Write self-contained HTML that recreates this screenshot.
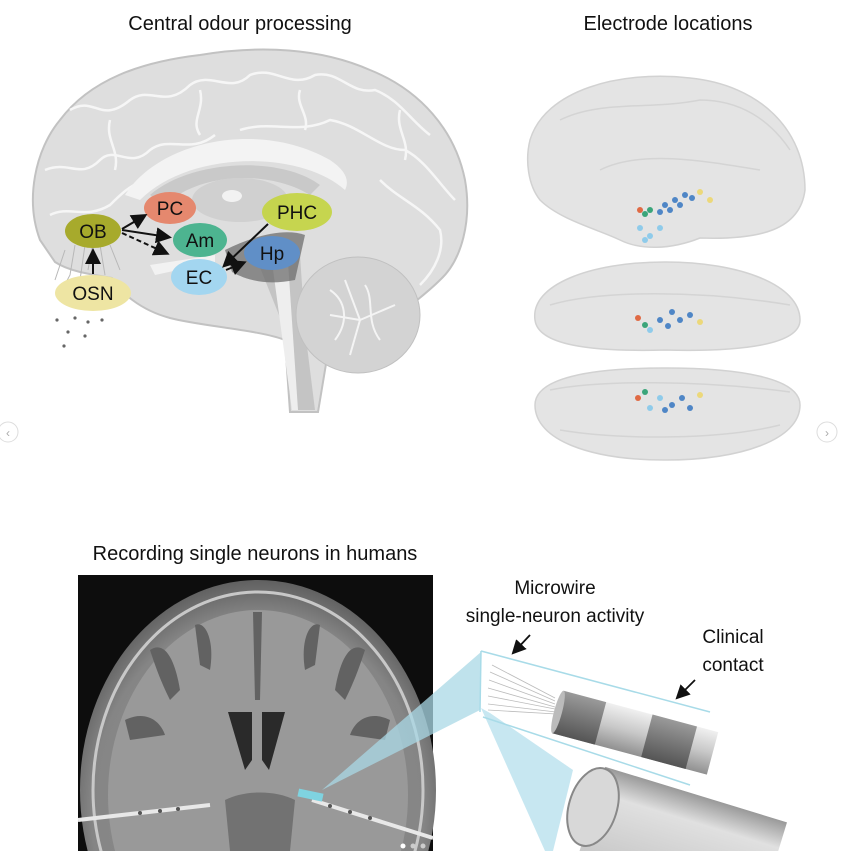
<!DOCTYPE html>
<html><head><meta charset="utf-8"><style>
html,body{margin:0;padding:0;background:#fff;width:842px;height:851px;overflow:hidden;}
svg{display:block;font-family:"Liberation Sans",Arial,sans-serif;}
</style></head><body>
<svg width="842" height="851" viewBox="0 0 842 851" xmlns="http://www.w3.org/2000/svg">
<defs>
<marker id="ar" markerWidth="8" markerHeight="8" refX="6" refY="4" orient="auto"><path d="M0,0 L8,4 L0,8 z" fill="#111"/></marker>
<linearGradient id="cyl" x1="0" y1="0" x2="0" y2="1"><stop offset="0" stop-color="#f0f0f0"/><stop offset="0.5" stop-color="#c8c8c8"/><stop offset="1" stop-color="#909090"/></linearGradient>
<linearGradient id="cyl2" x1="0" y1="0" x2="0" y2="1"><stop offset="0" stop-color="#9a9a9a"/><stop offset="0.5" stop-color="#777"/><stop offset="1" stop-color="#555"/></linearGradient>
<linearGradient id="sem" x1="0" y1="0" x2="0" y2="1"><stop offset="0" stop-color="#999"/><stop offset="0.3" stop-color="#e0e0e0"/><stop offset="1" stop-color="#c8c8c8"/></linearGradient>
<radialGradient id="skull" cx="0.5" cy="0.55" r="0.55"><stop offset="0" stop-color="#959595"/><stop offset="0.85" stop-color="#858585"/><stop offset="1" stop-color="#606060"/></radialGradient>
</defs>

<text x="240" y="30" font-size="20" text-anchor="middle" fill="#111">Central odour processing</text>
<text x="668" y="30" font-size="20" text-anchor="middle" fill="#111">Electrode locations</text>

<!-- sagittal brain -->
<path d="M40,240 C25,200 35,150 60,120 C90,80 140,62 200,55 C260,45 320,48 370,70 C420,90 455,130 465,180 C472,220 462,260 440,280 C420,300 400,310 390,330 L330,340 L318,412 L290,412 L285,340 C260,330 200,326 170,318 C140,310 120,292 112,278 C95,275 70,272 55,262 Z" fill="#dedede" stroke="#c2c2c2" stroke-width="2"/>
<g stroke="#f6f6f6" fill="none" stroke-width="2.5">
<path d="M70,110 C95,95 100,125 130,100 C150,85 165,110 190,85 C210,70 230,95 250,75 C275,65 290,90 315,75 C340,70 350,95 375,90 C400,100 410,120 430,135"/>
<path d="M45,170 C70,160 80,180 100,160 C115,145 130,170 150,150 C170,135 190,155 215,135"/>
<path d="M240,130 C270,120 300,135 330,120 C360,125 380,150 405,150 C425,160 440,185 455,200"/>
<path d="M380,180 C400,200 420,205 440,230 C445,250 435,270 420,285"/>
<path d="M50,215 C70,205 85,220 110,205 C120,195 130,185 145,180"/>
<path d="M110,120 C105,140 120,150 115,170"/><path d="M200,90 C205,110 190,120 200,135"/><path d="M300,90 C295,105 310,115 305,130"/><path d="M400,110 C395,130 410,140 405,160"/>
</g>
<path d="M125,195 C160,140 260,120 330,160 C345,170 350,180 345,190 C300,150 190,150 140,200 Z" fill="#f3f3f3"/>
<path d="M150,195 C190,160 280,155 320,185 L310,195 C270,170 200,172 165,205 Z" fill="#c9c9c9"/>
<ellipse cx="240" cy="200" rx="48" ry="22" fill="#d0d0d0"/>
<ellipse cx="232" cy="196" rx="10" ry="6" fill="#f2f2f2"/>
<path d="M255,255 L300,255 L305,330 L315,410 L295,410 L285,330 Z" fill="#c4c4c4"/>
<path d="M272,262 L288,262 L298,410 L292,410 Z" fill="#eeeeee"/>
<ellipse cx="358" cy="315" rx="62" ry="58" fill="#d3d3d3" stroke="#c0c0c0"/>
<g stroke="#f4f4f4" fill="none" stroke-width="2"><path d="M330,290 C345,300 350,320 335,340"/><path d="M345,280 L360,320 L350,355"/><path d="M365,285 C375,300 365,320 380,340"/><path d="M360,320 L395,305"/><path d="M360,320 L330,315"/></g>
<path d="M225,250 C255,235 285,228 305,235 L295,280 C270,285 250,282 232,272 Z" fill="#6e6e6e" opacity="0.75"/>
<path d="M150,265 L215,255 L215,262 L155,275 Z" fill="#f2f2f2"/>

<g stroke="#b8b8b8" fill="none" stroke-width="1">
<path d="M75,245 L70,275 L62,290 M85,245 L80,280 M100,245 L105,275 M110,245 L120,270 M65,250 L55,280 M92,248 L88,270"/>
</g>
<g fill="#666"><circle cx="57" cy="320" r="1.6"/><circle cx="75" cy="318" r="1.6"/><circle cx="88" cy="322" r="1.6"/><circle cx="102" cy="320" r="1.6"/><circle cx="68" cy="332" r="1.6"/><circle cx="85" cy="336" r="1.6"/><circle cx="64" cy="346" r="1.6"/></g>

<!-- nodes -->
<g font-size="19" text-anchor="middle" fill="#111">
<ellipse cx="93" cy="231" rx="28" ry="17" fill="#a7aa2c"/><text x="93" y="238">OB</text>
<ellipse cx="170" cy="208" rx="26" ry="16" fill="#e5886e"/><text x="170" y="215">PC</text>
<ellipse cx="200" cy="240" rx="27" ry="17" fill="#4db490"/><text x="200" y="247">Am</text>
<ellipse cx="199" cy="277" rx="28" ry="18" fill="#a3d6f0"/><text x="199" y="284">EC</text>
<ellipse cx="272" cy="253" rx="28" ry="17" fill="#5e8fca" opacity="0.95"/><text x="272" y="260">Hp</text>
<ellipse cx="297" cy="212" rx="35" ry="19" fill="#c4d447" opacity="0.95"/><text x="297" y="219">PHC</text>
<ellipse cx="93" cy="293" rx="38" ry="18" fill="#eee5a3"/><text x="93" y="300">OSN</text>
</g>
<g stroke="#111" stroke-width="2" fill="none" marker-end="url(#ar)">
<line x1="93" y1="274" x2="93" y2="252"/>
<line x1="122" y1="229" x2="144" y2="216"/>
<line x1="122" y1="230" x2="168" y2="237"/>
<line x1="122" y1="233" x2="166" y2="253" stroke-dasharray="5,3"/>
<line x1="268" y1="224" x2="225" y2="265"/>
<line x1="226" y1="270" x2="243" y2="263"/>
</g>

<!-- electrode brains -->
<g fill="#e4e4e4" stroke="#d2d2d2" stroke-width="1.5">
<path d="M530,140 C545,90 620,70 690,78 C760,85 805,130 805,190 C800,230 760,240 700,238 C670,250 640,250 620,240 C600,230 560,220 540,200 C528,185 525,160 530,140 Z"/>
<path d="M535,320 C530,285 590,262 665,262 C740,262 800,285 800,320 C800,345 740,352 665,350 C590,352 538,345 535,320 Z"/>
<path d="M535,405 C535,378 590,368 665,368 C740,368 800,378 800,405 C800,440 740,460 665,460 C590,460 535,440 535,405 Z"/>
</g>
<g stroke="#d4d4d4" fill="none" stroke-width="1.5">
<path d="M560,120 C600,100 650,110 700,100 C740,100 770,120 790,150"/><path d="M600,170 C640,150 700,160 760,170"/>
<path d="M550,305 C600,290 700,290 790,305"/><path d="M550,390 C600,380 700,380 790,392"/><path d="M560,430 C620,440 720,440 780,425"/>
</g>
<g>
<circle cx="640" cy="210" r="3" fill="#e06a44"/><circle cx="645" cy="214" r="3" fill="#3aa57a"/><circle cx="650" cy="210" r="3" fill="#3aa57a"/>
<circle cx="665" cy="205" r="3" fill="#4f86c6"/><circle cx="675" cy="200" r="3" fill="#4f86c6"/><circle cx="685" cy="195" r="3" fill="#4f86c6"/><circle cx="660" cy="212" r="3" fill="#4f86c6"/><circle cx="692" cy="198" r="3" fill="#4f86c6"/><circle cx="670" cy="210" r="3" fill="#4f86c6"/><circle cx="680" cy="205" r="3" fill="#4f86c6"/>
<circle cx="640" cy="228" r="3" fill="#8fcbea"/><circle cx="650" cy="236" r="3" fill="#8fcbea"/><circle cx="660" cy="228" r="3" fill="#8fcbea"/><circle cx="645" cy="240" r="3" fill="#8fcbea"/>
<circle cx="700" cy="192" r="3" fill="#ecd87a"/><circle cx="710" cy="200" r="3" fill="#ecd87a"/>
<circle cx="638" cy="318" r="3" fill="#e06a44"/><circle cx="645" cy="325" r="3" fill="#3aa57a"/><circle cx="660" cy="320" r="3" fill="#4f86c6"/><circle cx="672" cy="312" r="3" fill="#4f86c6"/><circle cx="680" cy="320" r="3" fill="#4f86c6"/><circle cx="690" cy="315" r="3" fill="#4f86c6"/><circle cx="700" cy="322" r="3" fill="#ecd87a"/><circle cx="650" cy="330" r="3" fill="#8fcbea"/><circle cx="668" cy="326" r="3" fill="#4f86c6"/>
<circle cx="638" cy="398" r="3" fill="#e06a44"/><circle cx="645" cy="392" r="3" fill="#3aa57a"/><circle cx="660" cy="398" r="3" fill="#8fcbea"/><circle cx="672" cy="405" r="3" fill="#4f86c6"/><circle cx="682" cy="398" r="3" fill="#4f86c6"/><circle cx="690" cy="408" r="3" fill="#4f86c6"/><circle cx="700" cy="395" r="3" fill="#ecd87a"/><circle cx="650" cy="408" r="3" fill="#8fcbea"/><circle cx="665" cy="410" r="3" fill="#4f86c6"/>
</g>

<!-- carousel arrows -->
<circle cx="8" cy="432" r="10" fill="#fff" stroke="#ddd"/><text x="8" y="437" font-size="12" text-anchor="middle" fill="#aaa">‹</text>
<circle cx="827" cy="432" r="10" fill="#fff" stroke="#ddd"/><text x="827" y="437" font-size="12" text-anchor="middle" fill="#aaa">›</text>

<text x="255" y="560" font-size="20" text-anchor="middle" fill="#111">Recording single neurons in humans</text>

<!-- MRI -->
<rect x="78" y="575" width="355" height="276" fill="#0d0d0d"/>
<ellipse cx="258" cy="790" rx="178" ry="210" fill="url(#skull)"/>
<ellipse cx="258" cy="790" rx="165" ry="198" fill="none" stroke="#c8c8c8" stroke-width="3"/>
<ellipse cx="258" cy="795" rx="150" ry="185" fill="#999"/>
<g fill="#626262">
<path d="M253,612 L262,612 L260,700 L255,700 Z"/>
<path d="M150,650 C165,640 175,660 180,690 L170,700 C160,680 155,665 150,650 Z"/>
<path d="M195,625 C205,620 215,640 210,670 L200,665 Z"/>
<path d="M320,625 C310,620 300,640 305,670 L315,665 Z"/>
<path d="M365,650 C350,640 340,660 335,690 L345,700 C355,680 360,665 365,650 Z"/>
<path d="M125,720 C145,710 160,720 165,735 L130,740 Z"/>
<path d="M390,720 C370,710 355,720 350,735 L385,740 Z"/>
</g>
<path d="M228,712 L252,712 L252,760 L245,770 Z M285,712 L262,712 L262,760 L269,770 Z" fill="#2a2a2a"/>
<path d="M225,800 C245,790 275,790 295,800 L290,851 L230,851 Z" fill="#727272"/>
<g stroke="#e8e8e8" stroke-width="4"><line x1="78" y1="820" x2="210" y2="805"/><line x1="312" y1="800" x2="433" y2="838"/></g>
<g fill="#555"><circle cx="140" cy="813" r="2"/><circle cx="160" cy="811" r="2"/><circle cx="178" cy="809" r="2"/><circle cx="330" cy="806" r="2"/><circle cx="350" cy="812" r="2"/><circle cx="370" cy="818" r="2"/></g>
<rect x="298" y="791" width="25" height="8" fill="#7fd3e0" transform="rotate(12 310 795)"/>

<!-- zoom cone -->
<path d="M322,790 L481,652 L480,710 Z" fill="#a9d8e6" opacity="0.75"/>
<path d="M481,708 L490,713 L573,770 L553,851 L545,851 Z" fill="#b9e1ed" opacity="0.8"/>
<g stroke="#a8dbe8" stroke-width="1.5" fill="none">
<line x1="481" y1="651" x2="710" y2="712"/>
<line x1="481" y1="651" x2="480" y2="712"/>
<line x1="483" y1="717" x2="690" y2="785"/>
</g>
<g stroke="#bbb" stroke-width="0.8">
<line x1="492" y1="665" x2="555" y2="698"/><line x1="490" y1="672" x2="555" y2="701"/><line x1="489" y1="680" x2="555" y2="704"/><line x1="488" y1="688" x2="555" y2="707"/><line x1="488" y1="696" x2="555" y2="709"/><line x1="488" y1="704" x2="556" y2="712"/><line x1="488" y1="710" x2="556" y2="714"/>
</g>
<g transform="rotate(15 558 712)">
<rect x="558" y="690" width="160" height="44" fill="url(#cyl)"/>
<rect x="558" y="690" width="44" height="44" fill="url(#cyl2)"/>
<rect x="650" y="690" width="46" height="44" fill="url(#cyl2)"/>
<ellipse cx="558" cy="712" rx="4" ry="22" fill="#bbb"/>
</g>
<g transform="rotate(17 593 807)">
<rect x="593" y="765" width="190" height="90" fill="url(#sem)"/>
<ellipse cx="593" cy="807" rx="24" ry="40" fill="#d8d8d8" stroke="#888" stroke-width="2"/>
</g>

<text x="555" y="594" font-size="19" text-anchor="middle" fill="#111">Microwire</text>
<text x="555" y="622" font-size="19" text-anchor="middle" fill="#111">single-neuron activity</text>
<text x="733" y="643" font-size="19" text-anchor="middle" fill="#111">Clinical</text>
<text x="733" y="671" font-size="19" text-anchor="middle" fill="#111">contact</text>
<g stroke="#111" stroke-width="1.8" marker-end="url(#ar)"><line x1="530" y1="635" x2="514" y2="652"/><line x1="695" y1="680" x2="678" y2="697"/></g>
<g fill="#ccc"><circle cx="403" cy="846" r="2.5" fill="#fff"/><circle cx="413" cy="846" r="2.5"/><circle cx="423" cy="846" r="2.5"/></g>
</svg>
</body></html>
